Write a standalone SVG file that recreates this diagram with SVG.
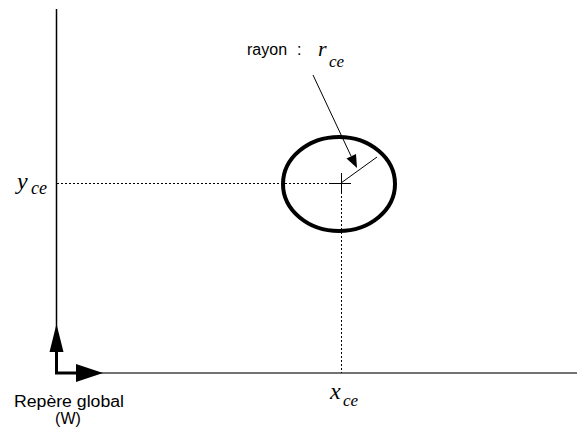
<svg xmlns="http://www.w3.org/2000/svg" width="577" height="430" viewBox="0 0 577 430">
<defs>
<style>
.sans{font-family:"Liberation Sans",Arial,sans-serif;fill:#000}
.math{font-family:"Liberation Serif","Times New Roman",serif;font-style:italic;fill:#000}
.dot{stroke:#000;stroke-width:1;stroke-dasharray:2 2;fill:none}
.thin{stroke:#000;stroke-width:1;fill:none}
</style>
</defs>
<rect width="577" height="430" fill="#fff"/>
<g id="axes">
<line x1="56.5" y1="9" x2="56.5" y2="373" stroke="#000" stroke-width="1.5"/>
<line x1="56" y1="373" x2="577" y2="373" stroke="#444" stroke-width="1.5"/>
</g>
<g id="global-frame">
<polyline points="56.5,352 56.5,373 77,373" fill="none" stroke="#000" stroke-width="3"/>
<polygon points="56.5,324 49.5,352 63.5,352" fill="#000"/>
<polygon points="103,373 76,364 76,382" fill="#000"/>
<text class="sans" x="69" y="407" font-size="16" textLength="110" lengthAdjust="spacingAndGlyphs" text-anchor="middle">Repère global</text>
<text class="sans" x="68" y="424" font-size="16" text-anchor="middle">(W)</text>
</g>
<g id="connectors">
<line class="dot" x1="57" y1="183.5" x2="341" y2="183.5"/>
<line class="dot" x1="341.5" y1="184" x2="341.5" y2="373"/>
</g>
<g id="circle">
<ellipse cx="339" cy="184" rx="56" ry="47" fill="none" stroke="#000" stroke-width="4"/>
<line class="thin" x1="329" y1="183.5" x2="351" y2="183.5"/>
<line class="thin" x1="341.5" y1="173" x2="341.5" y2="193"/>
<line class="thin" x1="341" y1="183" x2="377" y2="157"/>
</g>
<g id="radius-label">
<text class="sans" x="247" y="55" font-size="16">rayon</text>
<text class="sans" x="297" y="55" font-size="16">:</text>
<text class="math" x="318" y="56" font-size="22">r</text>
<text class="math" x="329" y="67" font-size="17">ce</text>
<line class="thin" x1="313" y1="75" x2="351" y2="156"/>
<polygon points="357,168 346.5,158.5 356,154" fill="#000"/>
</g>
<g id="y-label">
<text class="math" x="17" y="189" font-size="24">y</text>
<text class="math" x="31" y="194" font-size="18">ce</text>
</g>
<g id="x-label">
<text class="math" x="330" y="399" font-size="24">x</text>
<text class="math" x="343" y="406" font-size="17">ce</text>
</g>
</svg>
